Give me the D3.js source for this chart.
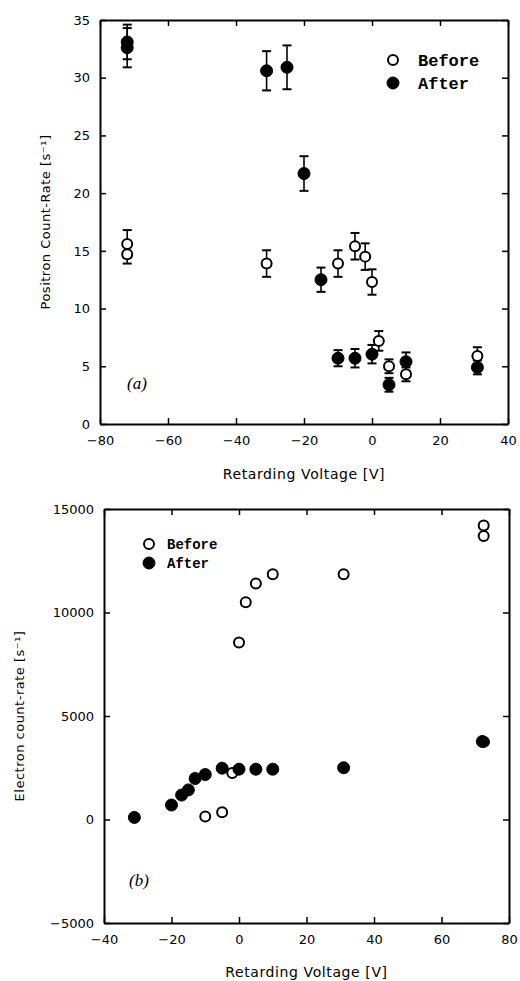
<!DOCTYPE html>
<html>
<head>
<meta charset="utf-8">
<script src="https://cdn.jsdelivr.net/npm/d3@7"></script>
<style>
  body { margin: 0; background: #fff; }
  svg { display: block; }
</style>
</head>
<body>
<div id="chart"></div>
<script>
const WIDTH = 520;
const HEIGHT = 981;

// panel (a): positron count-rate vs retarding voltage
const aBeforeV = [-72, -72, -31, -10, -5, -2, 0, 2, 5, 10, 31];
const aBeforeRate = [15.6, 14.7, 13.9, 13.9, 15.4, 14.5, 12.3, 7.2, 5.0, 4.3, 5.9];
const aBeforeErr = [1.2, 0.8, 1.15, 1.15, 1.15, 1.15, 1.1, 0.85, 0.6, 0.6, 0.75];

const aAfterV = [-72, -72, -31, -25, -20, -15, -10, -5, 0, 5, 10, 31];
const aAfterRate = [33.1, 32.6, 30.6, 30.9, 21.7, 12.5, 5.7, 5.7, 6.05, 3.4, 5.4, 4.9];
const aAfterErr = [1.5, 1.7, 1.7, 1.9, 1.5, 1.05, 0.7, 0.8, 0.8, 0.6, 0.8, 0.6];

const aXTicks = [-80, -60, -40, -20, 0, 20, 40];
const aYTicks = [0, 5, 10, 15, 20, 25, 30, 35];

// panel (b): electron count-rate vs retarding voltage
const bBeforeV = [-10, -5, -2, 0, 2, 5, 10, 31, 72.5, 72.5, 72.6];
const bBeforeRate = [150, 350, 2250, 8550, 10500, 11400, 11850, 11850, 14200, 13700, 3750];

const bAfterV = [-31, -20, -17, -15, -13, -10, -5, 0, 5, 10, 31, 72.1];
const bAfterRate = [100, 700, 1180, 1430, 1980, 2170, 2480, 2430, 2430, 2430, 2500, 3770];

const bXTicks = [-40, -20, 0, 20, 40, 60, 80];
const bYTicks = [-5000, 0, 5000, 10000, 15000];

const seriesNames = ["Before", "After"];

const svg = d3.select("#chart").append("svg")
    .attr("width", WIDTH)
    .attr("height", HEIGHT);

const TICK_FONT = "DejaVu Sans, sans-serif";
const LEGEND_FONT = "Liberation Mono, Courier New, monospace";

function drawPanel(opt) {
    const x = d3.scaleLinear().domain(opt.xDomain).range([opt.left, opt.right]);
    const y = d3.scaleLinear().domain(opt.yDomain).range([opt.bottom, opt.top]);
    const fmt = d3.format("d");

    const g = svg.append("g");

    // frame: four axes, ticks pointing inward
    const axB = g.append("g").attr("transform", `translate(0,${opt.bottom})`)
        .call(d3.axisBottom(x).tickValues(opt.xTicks).tickFormat(fmt).tickSizeInner(-6).tickSizeOuter(0).tickPadding(12));
    const axT = g.append("g").attr("transform", `translate(0,${opt.top})`)
        .call(d3.axisTop(x).tickValues(opt.xTicks).tickSizeInner(-6).tickSizeOuter(0).tickFormat(""));
    const axL = g.append("g").attr("transform", `translate(${opt.left},0)`)
        .call(d3.axisLeft(y).tickValues(opt.yTicks).tickFormat(fmt).tickSizeInner(-6).tickSizeOuter(0).tickPadding(opt.yPad));
    const axR = g.append("g").attr("transform", `translate(${opt.right},0)`)
        .call(d3.axisRight(y).tickValues(opt.yTicks).tickSizeInner(-6).tickSizeOuter(0).tickFormat(""));

    [axB, axT, axL, axR].forEach((a) => {
        a.select(".domain").attr("stroke-width", 2);
        a.selectAll(".tick line").attr("stroke-width", 1.5);
        a.selectAll("text")
            .attr("font-family", TICK_FONT)
            .attr("font-size", 13)
            .attr("fill", "#000");
    });

    // axis titles
    g.append("text")
        .text("Retarding Voltage [V]")
        .attr("x", (opt.left + opt.right) / 2)
        .attr("y", opt.xTitleY)
        .attr("text-anchor", "middle")
        .attr("font-family", TICK_FONT)
        .attr("font-size", 14)
        .attr("letter-spacing", 0.6);

    g.append("text")
        .text(opt.yTitle)
        .attr("transform", `translate(${opt.yTitleX},${(opt.top + opt.bottom) / 2}) rotate(-90)`)
        .attr("text-anchor", "middle")
        .attr("font-family", TICK_FONT)
        .attr("font-size", 13)
        .attr("letter-spacing", 0.5);

    // panel label
    g.append("text")
        .text(opt.label)
        .attr("x", opt.labelX)
        .attr("y", opt.labelY)
        .attr("font-family", "Liberation Serif, DejaVu Serif, serif")
        .attr("font-style", "italic")
        .attr("font-size", 17);

    return { x, y, g };
}

function drawErrors(p, xs, ys, es) {
    const eb = p.g.append("g").attr("stroke", "#000").attr("stroke-width", 1.6);
    xs.forEach((v, i) => {
        const cx = p.x(v);
        const y0 = p.y(ys[i] - es[i]);
        const y1 = p.y(ys[i] + es[i]);
        eb.append("line").attr("x1", cx).attr("x2", cx).attr("y1", y0).attr("y2", y1);
        eb.append("line").attr("x1", cx - 4.5).attr("x2", cx + 4.5).attr("y1", y0).attr("y2", y0).attr("stroke-width", 2);
        eb.append("line").attr("x1", cx - 4.5).attr("x2", cx + 4.5).attr("y1", y1).attr("y2", y1).attr("stroke-width", 2);
    });
}

function drawPoints(p, xs, ys, filled) {
    p.g.append("g").selectAll("circle")
        .data(xs.map((v, i) => ({ v: v, r: ys[i] })))
        .join("circle")
        .attr("cx", (d) => p.x(d.v))
        .attr("cy", (d) => p.y(d.r))
        .attr("r", filled ? 6 : 5)
        .attr("fill", filled ? "#000" : "#fff")
        .attr("stroke", "#000")
        .attr("stroke-width", filled ? 1 : 2);
}

function drawLegend(lx, ly, gap, textX, fontSize) {
    const lg = svg.append("g");
    seriesNames.forEach((name, i) => {
        const filled = i == 1;
        lg.append("circle")
            .attr("cx", lx)
            .attr("cy", ly + i * gap)
            .attr("r", filled ? 6 : 5)
            .attr("fill", filled ? "#000" : "#fff")
            .attr("stroke", "#000")
            .attr("stroke-width", filled ? 1 : 2);
        lg.append("text")
            .text(name)
            .attr("x", textX)
            .attr("y", ly + i * gap + fontSize * 0.33)
            .attr("font-family", LEGEND_FONT)
            .attr("font-weight", "bold")
            .attr("font-size", fontSize);
    });
}

// panel (a)
const pa = drawPanel({
    xDomain: [-80, 40], yDomain: [0, 35],
    left: 100, right: 508, top: 20, bottom: 424,
    xTicks: aXTicks, yTicks: aYTicks, yPad: 10,
    yTitle: "Positron Count-Rate [s\u207B\u00B9]", yTitleX: 50,
    xTitleY: 479, label: "(a)", labelX: 127, labelY: 389,
});
drawErrors(pa, aBeforeV, aBeforeRate, aBeforeErr);
drawErrors(pa, aAfterV, aAfterRate, aAfterErr);
drawPoints(pa, aBeforeV, aBeforeRate, false);
drawPoints(pa, aAfterV, aAfterRate, true);
drawLegend(393, 60, 23, 418, 17);

// panel (b)
const pb = drawPanel({
    xDomain: [-40, 80], yDomain: [-5000, 15000],
    left: 104, right: 509, top: 509, bottom: 923,
    xTicks: bXTicks, yTicks: bYTicks, yPad: 10,
    yTitle: "Electron count-rate [s\u207B\u00B9]", yTitleX: 24,
    xTitleY: 977, label: "(b)", labelX: 129, labelY: 886,
});
drawPoints(pb, bBeforeV, bBeforeRate, false);
drawPoints(pb, bAfterV, bAfterRate, true);
drawLegend(149, 544, 19, 167, 14);
</script>
</body>
</html>
